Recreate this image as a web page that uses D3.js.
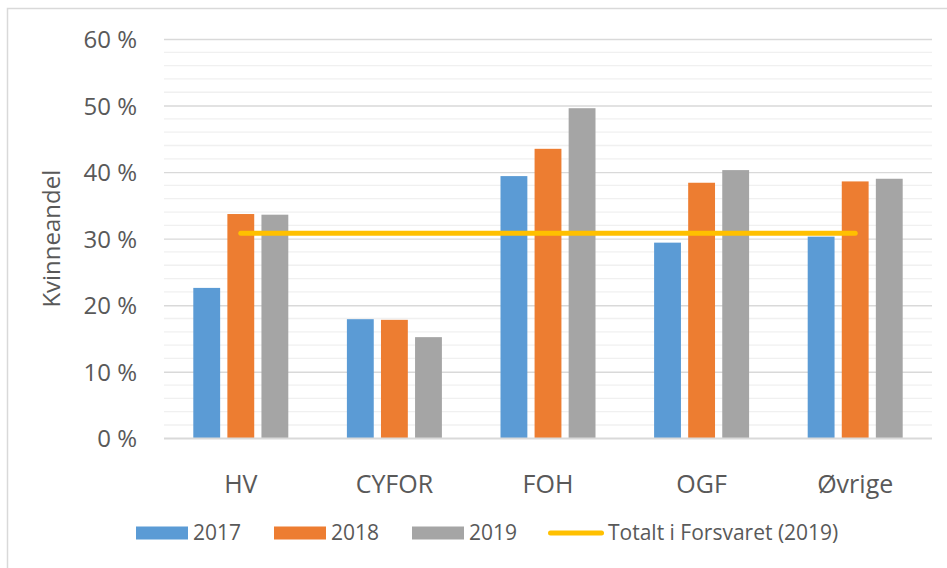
<!DOCTYPE html>
<html>
<head>
<meta charset="utf-8">
<script src="https://cdn.jsdelivr.net/npm/d3@7"></script>
<style>
  html, body { margin: 0; padding: 0; background: #fff; }
  svg { display: block; font-family: "Open Sans", sans-serif; }
</style>
</head>
<body>
<svg id="chart" width="947" height="568"></svg>
<script>
const categories = ["HV", "CYFOR", "FOH", "OGF", "Øvrige"];
const years = ["2017", "2018", "2019"];
const values2017 = [22.6, 17.9, 39.4, 29.4, 30.3];
const values2018 = [33.7, 17.8, 43.5, 38.4, 38.6];
const values2019 = [33.6, 15.2, 49.6, 40.3, 39.0];
const totalLabel = "Totalt i Forsvaret (2019)";
const totalValues = [30.8, 30.8, 30.8, 30.8, 30.8];
const yTicks = [0, 10, 20, 30, 40, 50, 60];
const yTitle = "Kvinneandel";
const colors = ["#5B9BD5", "#ED7D31", "#A5A5A5"];
const lineColor = "#FFC000";

const seriesValues = [values2017, values2018, values2019];

const svg = d3.select("#chart");
const plot = { left: 164, right: 932, top: 39, bottom: 438.3 };
const textColor = "#595959";

// outer border (only top & left visible in frame)
svg.append("rect")
  .attr("x", 7.5).attr("y", 8.5)
  .attr("width", 1000).attr("height", 1000)
  .attr("fill", "none").attr("stroke", "#d9d9d9").attr("stroke-width", 1.5);

const y = d3.scaleLinear().domain([0, 60]).range([plot.bottom, plot.top]);
const x = d3.scaleBand().domain(categories).range([plot.left, plot.right])
  .paddingInner(0.3815).paddingOuter(0.3815 / 2);
const xi = d3.scaleBand().domain(years).range([0, x.bandwidth()])
  .paddingInner(0.212).paddingOuter(0);

// minor gridlines
const minor = d3.range(0, 61, 2).filter(v => v % 10 !== 0);
svg.append("g").selectAll("line").data(minor).join("line")
  .attr("x1", plot.left).attr("x2", plot.right)
  .attr("y1", d => y(d)).attr("y2", d => y(d))
  .attr("stroke", "#f0f0f0").attr("stroke-width", 1.3);

// major gridlines via axis
const yAxis = d3.axisLeft(y).tickValues(yTicks).tickSize(-(plot.right - plot.left))
  .tickFormat(d => d + " %").tickPadding(27);
const gy = svg.append("g").attr("transform", `translate(${plot.left},0)`).call(yAxis);
gy.select(".domain").remove();
gy.selectAll(".tick line").attr("stroke", "#d9d9d9").attr("stroke-width", 1.4);
gy.selectAll(".tick text").attr("fill", textColor).attr("font-size", 24)
  .attr("font-family", "'Open Sans', sans-serif").attr("dy", "0.36em");

// bars
const groups = svg.append("g").selectAll("g").data(categories).join("g")
  .attr("transform", d => `translate(${x(d)},0)`);
groups.selectAll("rect").data((c, i) => years.map((yr, k) => ({ yr, k, v: seriesValues[k][i] })))
  .join("rect")
  .attr("x", d => xi(d.yr))
  .attr("width", xi.bandwidth())
  .attr("y", d => y(d.v))
  .attr("height", d => y(0) - y(d.v))
  .attr("fill", d => colors[d.k]);

// baseline
svg.append("line")
  .attr("x1", plot.left).attr("x2", plot.right)
  .attr("y1", y(0)).attr("y2", y(0))
  .attr("stroke", "#d9d9d9").attr("stroke-width", 1.6);

// x axis labels
const xAxis = d3.axisBottom(x).tickSize(0).tickPadding(37);
const gx = svg.append("g").attr("transform", `translate(0,${y(0)})`).call(xAxis);
gx.select(".domain").remove();
gx.selectAll(".tick text").attr("fill", textColor).attr("font-size", 25)
  .attr("font-family", "'Open Sans', sans-serif");

// total line
const line = d3.line()
  .x((d, i) => x(categories[i]) + x.bandwidth() / 2)
  .y(d => y(d));
svg.append("path").datum(totalValues)
  .attr("d", line)
  .attr("fill", "none").attr("stroke", lineColor)
  .attr("stroke-width", 5).attr("stroke-linecap", "round");

// y title
svg.append("text")
  .attr("transform", `translate(60,${(plot.top + plot.bottom) / 2}) rotate(-90)`)
  .attr("text-anchor", "middle")
  .attr("fill", textColor).attr("font-size", 24)
  .text(yTitle);

// legend
const legendY = 533;
const legendItems = [
  { label: years[0], color: colors[0], x: 136, type: "rect" },
  { label: years[1], color: colors[1], x: 274, type: "rect" },
  { label: years[2], color: colors[2], x: 412, type: "rect" },
  { label: totalLabel, color: lineColor, x: 548, type: "line" }
];
const lg = svg.append("g").selectAll("g").data(legendItems).join("g")
  .attr("transform", d => `translate(${d.x},${legendY})`);
lg.filter(d => d.type === "rect").append("rect")
  .attr("x", 0).attr("y", -6.5).attr("width", 52).attr("height", 13)
  .attr("fill", d => d.color);
lg.filter(d => d.type === "line").append("line")
  .attr("x1", 2.5).attr("x2", 53.5).attr("y1", 0).attr("y2", 0)
  .attr("stroke", d => d.color).attr("stroke-width", 5).attr("stroke-linecap", "round");
lg.append("text")
  .attr("x", d => d.type === "rect" ? 57 : 60)
  .attr("y", 7.3)
  .attr("fill", textColor).attr("font-size", 21)
  .text(d => d.label);
</script>
</body>
</html>
